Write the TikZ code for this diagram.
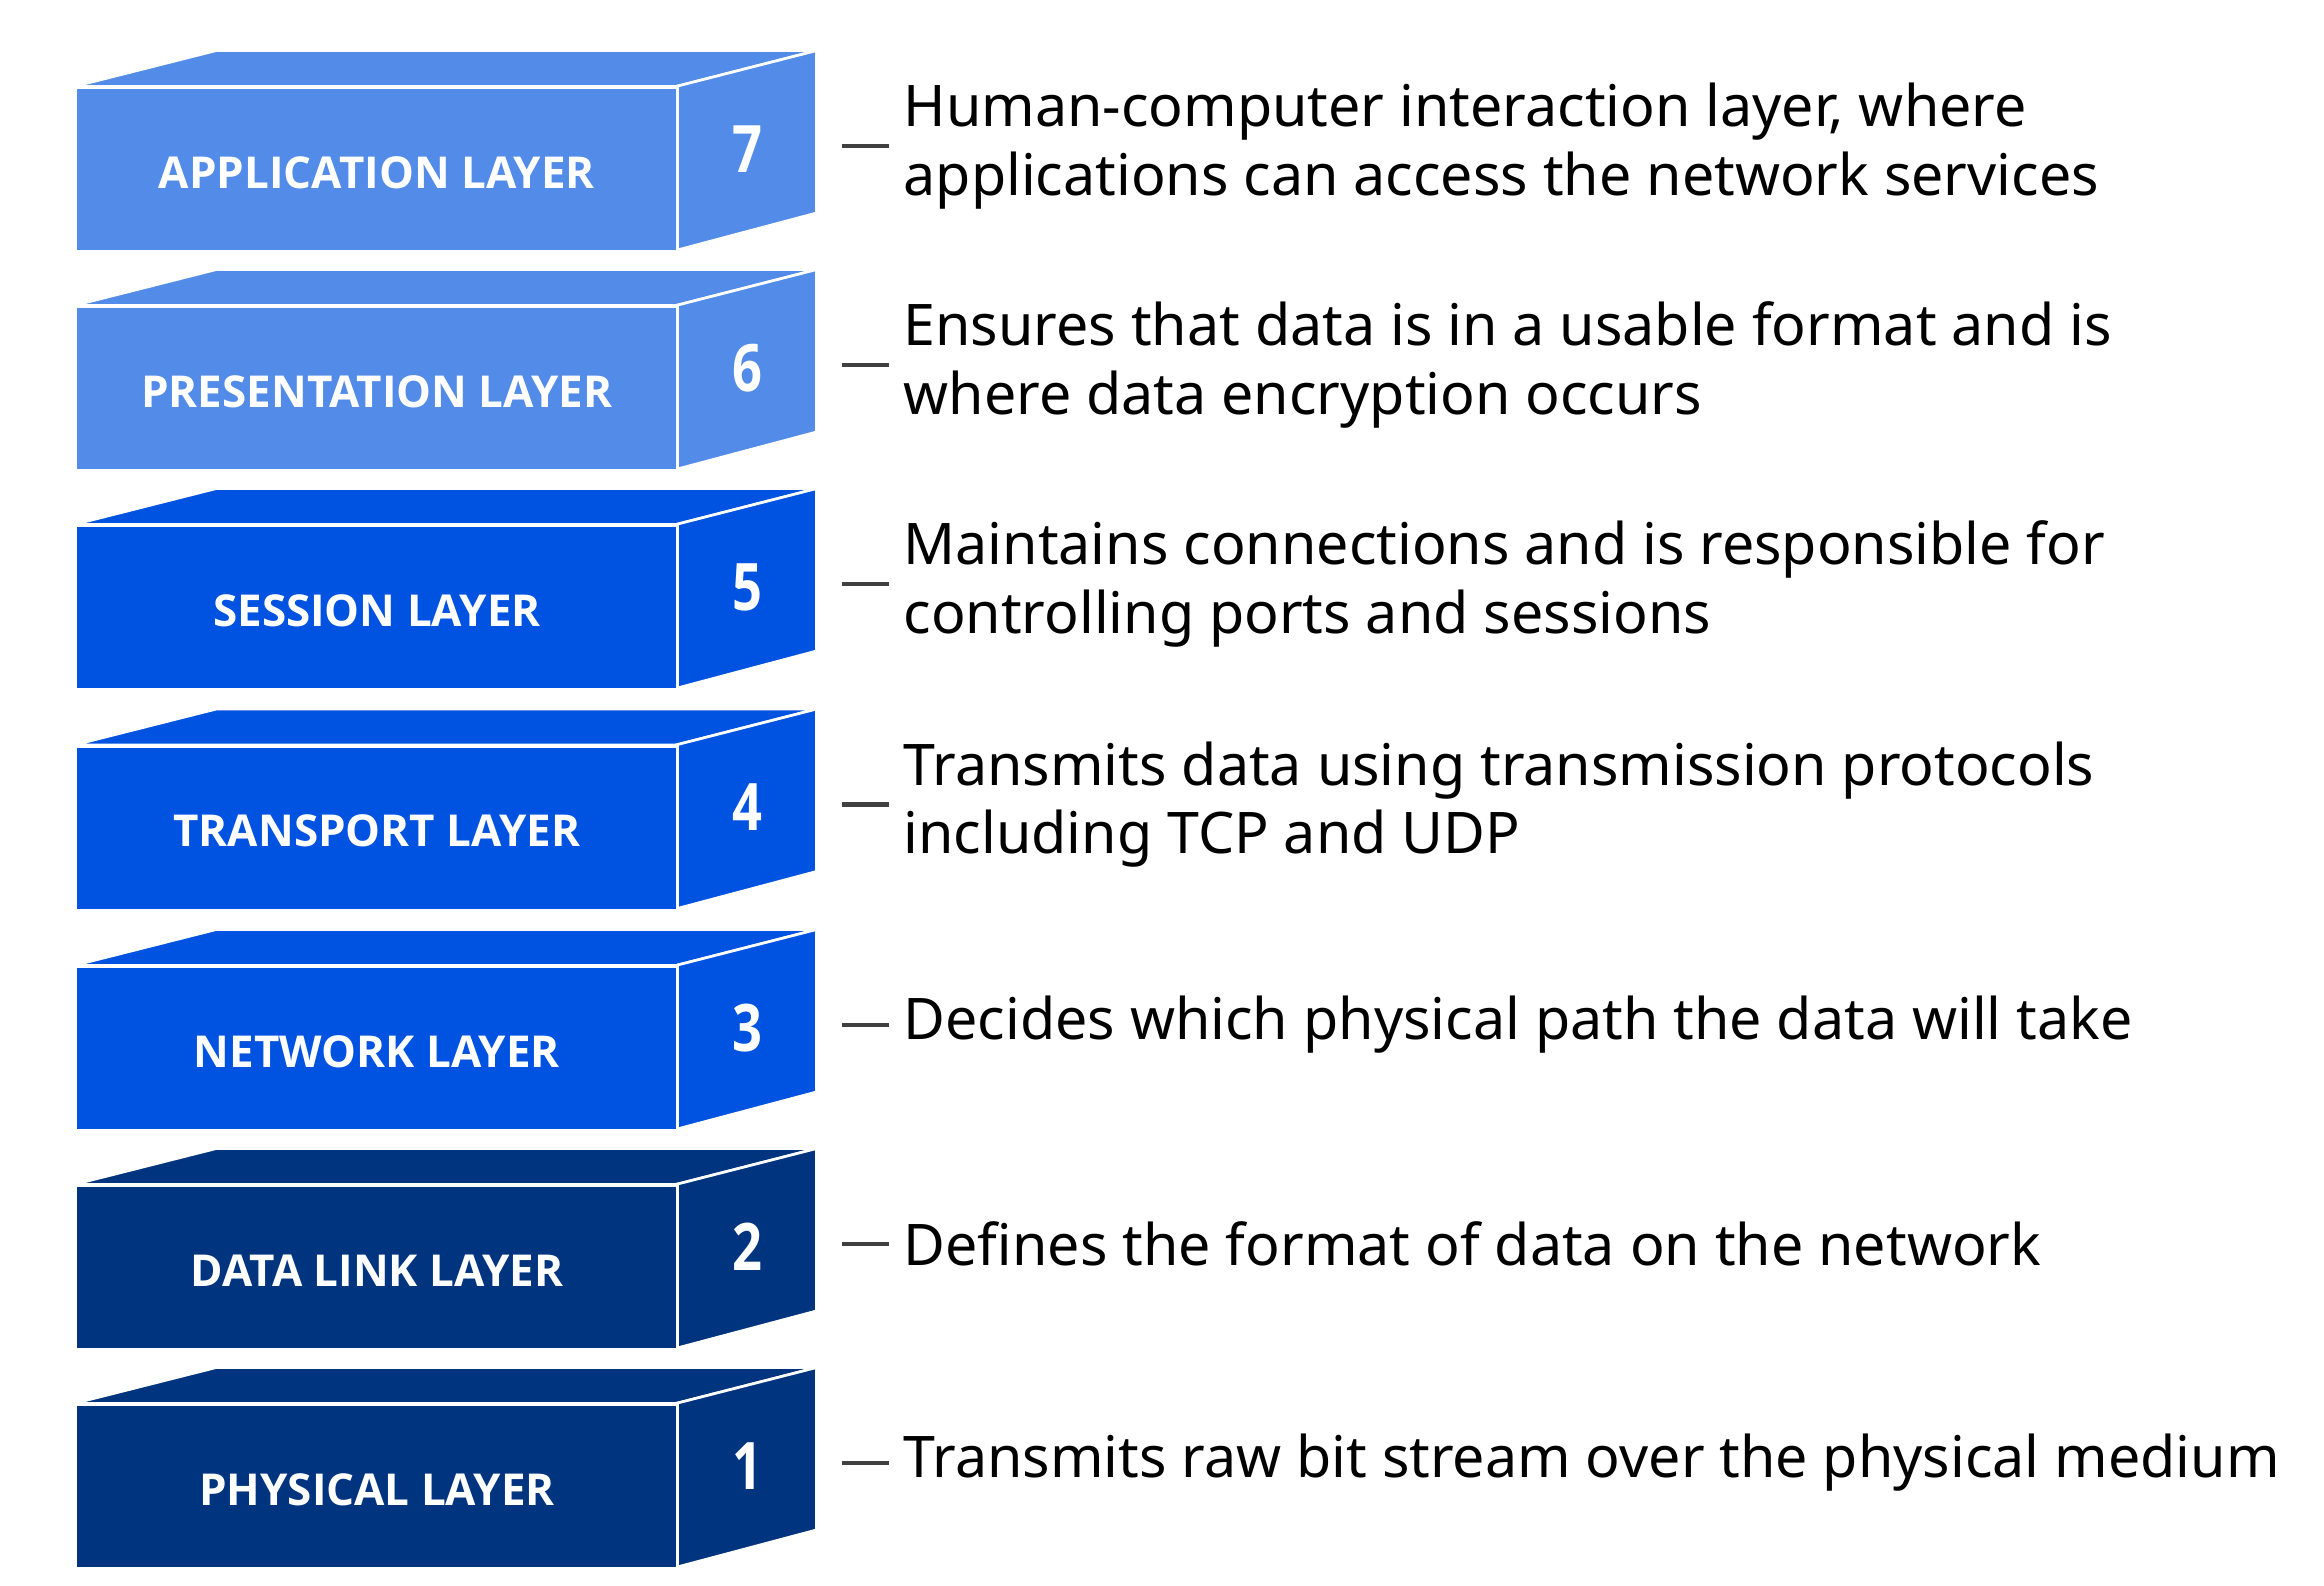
\documentclass[tikz,border=0pt]{standalone}
\usepackage{fontspec}
\setmainfont{Noto Sans}
\newfontfamily\lblfont{Open Sans}
\definecolor{cA}{HTML}{528BE8}
\definecolor{cB}{HTML}{0052E0}
\definecolor{cC}{HTML}{00347F}
\begin{document}
\begin{tikzpicture}[x=1pt,y=-1pt,
  face/.style={draw=white,line width=1.8pt,line join=miter},
  lbl/.style={text=white,font=\lblfont\bfseries\fontsize{29.5}{34}\selectfont},
  num/.style={text=white,font=\lblfont\bfseries\fontsize{44}{50}\selectfont,xscale=0.8},
  desc/.style={anchor=west,align=left,font=\fontsize{38.5}{46}\selectfont},
  dashline/.style={draw=black!75,line width=3pt}]
\useasboundingbox (0,0) rectangle (1560,1064);
\foreach \i/\t/\c/\name/\d in {
 7/58/cA/APPLICATION LAYER/{Human-computer interaction layer, where\\applications can access the network services},
 6/205/cA/PRESENTATION LAYER/{Ensures that data is in a usable format and is\\where data encryption occurs},
 5/352/cB/SESSION LAYER/{Maintains connections and is responsible for\\controlling ports and sessions},
 4/500/cB/TRANSPORT LAYER/{Transmits data using transmission protocols\\including TCP and UDP},
 3/648/cB/NETWORK LAYER/{Decides which physical path the data will take},
 2/795/cC/DATA LINK LAYER/{Defines the format of data on the network},
 1/942/cC/PHYSICAL LAYER/{Transmits raw bit stream over the physical medium}}{
  \fill[\c,face] (50,\t) -- (145,\t-24) -- (548,\t-24) -- (454,\t) -- cycle;
  \fill[\c,face] (454,\t) -- (548,\t-24) -- (548,\t+85) -- (454,\t+110) -- cycle;
  \node[fill=\c,face,minimum width=404pt,minimum height=110pt,anchor=north west,inner sep=0] (f\i) at (50,\t) {};
  \node[lbl] (l\i) at (253,\t+58) {\name};
  \node[num] (n\i) at (502,\t+42) {\i};
  \coordinate (da\i) at (565,\t+40);
  \coordinate (db\i) at (597,\t+40);
  \draw[dashline] (da\i) -- (db\i);
  \node[desc] (d\i) at (603,\t+40) {\d};
}
\end{tikzpicture}
\end{document}
